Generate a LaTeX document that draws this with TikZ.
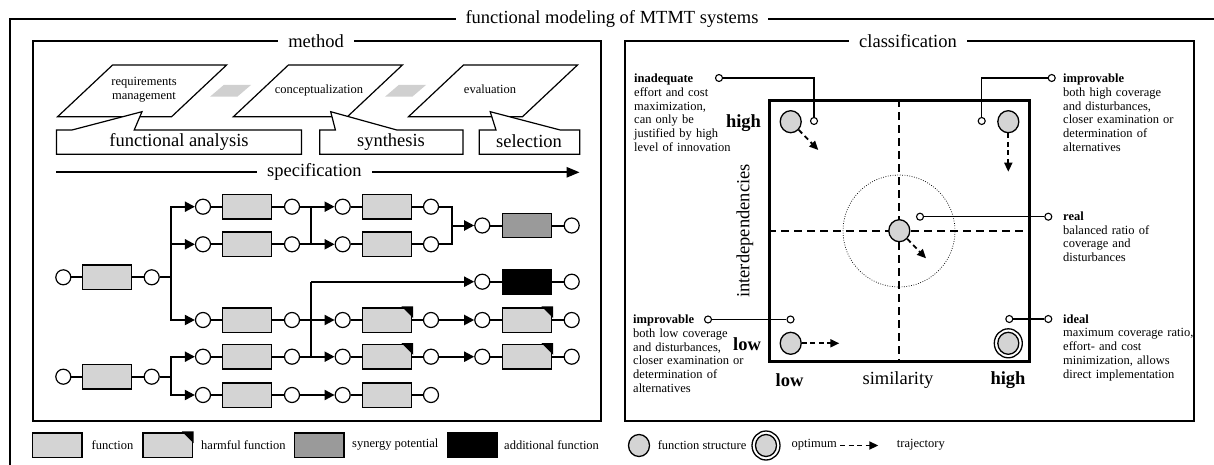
\documentclass[tikz,border=0pt]{standalone}
\usepackage{fontspec}
\setmainfont{Liberation Serif}
\usetikzlibrary{arrows.meta,shapes.geometric}

\definecolor{fnfill}{HTML}{D4D4D4}
\definecolor{synfill}{HTML}{9A9A9A}
\definecolor{linkgrey}{HTML}{D0D0D0}

\tikzset{
  big/.style={font=\fontsize{18.5}{20}\selectfont},
  bigbold/.style={font=\fontsize{18.5}{20}\selectfont\bfseries},
  small/.style={font=\fontsize{12.5}{13.8}\selectfont},
  frametitle/.style={big, fill=white, inner xsep=10pt, inner ysep=2pt},
  port/.style={circle, draw, fill=white, line width=1.2pt, minimum size=15pt, inner sep=0pt},
  fnbox/.style={draw, fill=fnfill, line width=1.4pt, minimum width=49.4pt, minimum height=24.4pt, inner sep=0pt},
  harmbox/.style={fnbox},
  synbox/.style={fnbox, fill=synfill},
  addbox/.style={fnbox, fill=black},
  link/.style={line width=2pt},
  flow/.style={link, -{Triangle[length=10pt,width=10pt]}},
  phase/.style={line width=1.2pt, fill=white},
  fstruct/.style={ellipse, draw, fill=fnfill, line width=1.3pt, minimum width=21pt, minimum height=22pt, inner sep=0pt},
  optring/.style={ellipse, draw, fill=white, line width=1.3pt, minimum width=28pt, minimum height=29pt, inner sep=0pt},
  tap/.style={circle, draw, fill=white, line width=1.1pt, minimum size=7pt, inner sep=0pt},
  lead/.style={line width=1.2pt},
  traj/.style={line width=1.8pt, dash pattern=on 5pt off 3.5pt, -{Triangle[length=9pt,width=8pt]}},
  axisdash/.style={line width=2pt, dash pattern=on 8pt off 5pt},
  note/.style={small, anchor=base west, align=left, text width=140pt, inner sep=0pt},
  legtext/.style={small, anchor=west, inner sep=0pt},
}

\begin{document}
\begin{tikzpicture}[x=1pt, y=-1pt]
\useasboundingbox (0,0) rectangle (1214,465);

% ---------- outer frame ----------
\draw[line width=1.2pt] (1220,19) -| (10,470);
\node[frametitle] (mainttl) at (612,19) {functional modeling of MTMT systems};

% ---------- method panel ----------
\draw[line width=1.5pt] (33,41) rectangle (601,421);
\node[frametitle] (methttl) at (316,41) {method};

% phases (parallelograms)
\foreach \bx in {57.6, 233.4, 408.5}{
  \draw[phase] (\bx,116.7) -- ++(114,0) -- ++(55,-51.7) -- ++(-114,0) -- cycle;
}
\node[small, align=center] (ph1t) at (144,90) {requirements\\management};
\node[small] (ph2t) at (319,90) {conceptualization};
\node[small] (ph3t) at (490,89.5) {evaluation};

% grey links between phases
\foreach \gx in {210, 385}{
  \fill[linkgrey] (\gx,96.7) -- ++(27.3,0) -- ++(13.7,-11.7) -- ++(-27.3,0) -- cycle;
}

% callouts
\draw[phase] (56.4,154.3) -- (56.4,130) -- (72,130) -- (142,111.7) -- (134.2,130) -- (301.5,130) -- (301.5,154.3) -- cycle;
\draw[phase] (319.8,154.3) -- (319.8,130) -- (335.4,130) -- (330.7,111.7) -- (396.8,130) -- (463,130) -- (463,154.3) -- cycle;
\draw[phase] (479.3,154.3) -- (479.3,130) -- (496,130) -- (490.2,111.7) -- (560.2,130) -- (579.7,130) -- (579.7,154.3) -- cycle;
\node[big] (fa) at (179,142) {functional analysis};
\node[big] (sy) at (391,142) {synthesis};
\node[big] (se) at (529,141.5) {selection};

% specification arrow
\coordinate (specL) at (56.4,172.3);
\coordinate (specR) at (579.7,172.3);
\draw[line width=2.4pt, -{Triangle[length=13pt,width=10pt]}] (specL) -- (specR);
\node[big, fill=white, inner xsep=10pt, inner ysep=1pt] (spec) at (314.4,172.3) {specification};

% ---------- function network ----------
% first chain
\node[port] (p11) at (63.3,277.3) {};
\node[fnbox] (f11) at (107,277.3) {};
\node[port] (p12) at (151.7,277.3) {};
\coordinate (br1) at (171,277.3);
% row A
\node[port] (pA1) at (203,206.7) {};
\node[fnbox] (fA1) at (247,206.7) {};
\node[port] (pA2) at (292,206.7) {};
\node[port] (pA3) at (342.7,206.7) {};
\node[fnbox] (fA2) at (387,206.7) {};
\node[port] (pA4) at (431,206.7) {};
% row B
\node[port] (pB1) at (203,244.3) {};
\node[fnbox] (fB1) at (247,244.3) {};
\node[port] (pB2) at (292,244.3) {};
\node[port] (pB3) at (342.7,244.3) {};
\node[fnbox] (fB2) at (387,244.3) {};
\node[port] (pB4) at (431,244.3) {};
% synergy
\node[port] (pS1) at (482.3,225.5) {};
\node[synbox] (fS) at (527,225.5) {};
\node[port] (pS2) at (571.7,225.5) {};
% additional
\node[port] (pK1) at (482.3,281.7) {};
\node[addbox] (fK) at (527,281.7) {};
\node[port] (pK2) at (571.7,281.7) {};
% row D
\node[port] (pD1) at (203,320) {};
\node[fnbox] (fD1) at (247,320) {};
\node[port] (pD2) at (292,320) {};
\node[port] (pD3) at (342.7,320) {};
\node[harmbox] (hD1) at (387,320) {};
\node[port] (pD4) at (431,320) {};
\node[port] (pD5) at (482.3,320) {};
\node[harmbox] (hD2) at (527,320) {};
\node[port] (pD6) at (571.7,320) {};
% second chain
\node[port] (p21) at (63.3,376.7) {};
\node[fnbox] (f21) at (107,376.7) {};
\node[port] (p22) at (151.7,376.7) {};
\coordinate (br2) at (171,376.7);
% row E
\node[port] (pE1) at (203,356.7) {};
\node[fnbox] (fE1) at (247,356.7) {};
\node[port] (pE2) at (292,356.7) {};
\node[port] (pE3) at (342.7,356.7) {};
\node[harmbox] (hE1) at (387,356.7) {};
\node[port] (pE4) at (431,356.7) {};
\node[port] (pE5) at (482.3,356.7) {};
\node[harmbox] (hE2) at (527,356.7) {};
\node[port] (pE6) at (571.7,356.7) {};
% row F
\node[port] (pF1) at (203,395) {};
\node[fnbox] (fF1) at (247,395) {};
\node[port] (pF2) at (292,395) {};
\node[port] (pF3) at (342.7,395) {};
\node[fnbox] (fF2) at (387,395) {};
\node[port] (pF4) at (431,395) {};

% bus points
\coordinate (busA) at (311.3,206.7);
\coordinate (busB) at (311.3,244.3);
\coordinate (mA) at (451.7,206.7);
\coordinate (mB) at (451.7,244.3);
\coordinate (mM) at (451.7,225.5);
\coordinate (busK) at (311.3,281.7);
\coordinate (busE) at (311.3,356.7);

% connectors
\draw[link] (p11) -- (f11) -- (p12) -- (br1);
\draw[flow] (br1) |- (pA1);
\draw[flow] (br1) |- (pB1);
\draw[flow] (br1) |- (pD1);
\draw[link] (pA1) -- (fA1) -- (pA2) -- (busA);
\draw[link] (pB1) -- (fB1) -- (pB2) -- (busB);
\draw[link] (busA) -- (busB);
\draw[flow] (busA) -- (pA3);
\draw[flow] (busB) -- (pB3);
\draw[link] (pA3) -- (fA2) -- (pA4) -- (mA) -- (mB) -- (pB4) -- (fB2) -- (pB3);
\draw[flow] (mM) -- (pS1);
\draw[link] (pS1) -- (fS) -- (pS2);
\draw[link] (busK) -- (busE);
\draw[flow] (busK) -- (pK1);
\draw[link] (pK1) -- (fK) -- (pK2);
\draw[link] (pD1) -- (fD1) -- (pD2);
\draw[flow] (pD2) -- (pD3);
\draw[link] (pD3) -- (hD1) -- (pD4);
\draw[flow] (pD4) -- (pD5);
\draw[link] (pD5) -- (hD2) -- (pD6);
\draw[link] (p21) -- (f21) -- (p22) -- (br2);
\draw[flow] (br2) |- (pE1);
\draw[flow] (br2) |- (pF1);
\draw[link] (pE1) -- (fE1) -- (pE2) -- (busE);
\draw[flow] (busE) -- (pE3);
\draw[link] (pE3) -- (hE1) -- (pE4);
\draw[flow] (pE4) -- (pE5);
\draw[link] (pE5) -- (hE2) -- (pE6);
\draw[link] (pF1) -- (fF1) -- (pF2);
\draw[flow] (pF2) -- (pF3);
\draw[link] (pF3) -- (fF2) -- (pF4);

% legend (left)
\node[fnbox] (lgf) at (57.4,445) {};
\node[legtext] at (91.4,445) {function};
\node[harmbox] (lgh) at (167.5,445) {};
\node[legtext] at (201,445) {harmful function};
\node[synbox] (lgs) at (319.3,445) {};
\node[legtext] at (352,445) {synergy potential};
\node[addbox] (lga) at (472.3,445) {};
\node[legtext] at (504,445) {additional function};

% black corner of each harmful function
\foreach \h in {hD1, hD2, hE1, hE2, lgh}{
  \fill ([xshift=0.7pt, yshift=0.7pt]\h.north east) -- ([xshift=-11pt, yshift=0.7pt]\h.north east)
        -- ([xshift=0.7pt, yshift=-11pt]\h.north east) -- cycle;
}

% ---------- classification panel ----------
\draw[line width=1.5pt] (625,41) rectangle (1194,421);
\node[frametitle] (clsttl) at (908,41) {classification};

\node[draw, line width=2.5pt, minimum width=260pt, minimum height=261pt, inner sep=0pt] (grid) at (899.3,231.2) {};
\draw[axisdash] (grid.north) -- (grid.south);
\draw[axisdash] (grid.west) -- (grid.east);
\draw[line width=0.7pt, dash pattern=on 0.8pt off 1.6pt] (899,231) circle (56pt);

% function structures
\node[fstruct] (sTL) at (790.7,121.7) {};
\node[fstruct] (sTR) at (1008.3,121.7) {};
\node[fstruct] (sC) at (899.3,230.7) {};
\node[fstruct] (sBL) at (790.7,343.3) {};
\node[optring] (oBRr) at (1008.3,343.3) {};
\node[fstruct] (oBR) at (1008.3,343.3) {};

% trajectories
\coordinate (tTL) at (818.3,150);
\coordinate (tTR) at (1008.3,171.7);
\coordinate (tC) at (926,258.3);
\coordinate (tBL) at (839.3,343.3);
\draw[traj] (sTL) -- (tTL);
\draw[traj] (sTR) -- (tTR);
\draw[traj] (sC) -- (tC);
\draw[traj] (sBL) -- (tBL);

% leaders to the descriptions
\node[tap] (inA) at (814,121) {};
\node[tap] (inB) at (719,78) {};
\node[tap] (imA) at (981.7,121) {};
\node[tap] (imB) at (1051.7,78) {};
\node[tap] (reA) at (920,216.7) {};
\node[tap] (reB) at (1048.3,216.7) {};
\node[tap] (lwA) at (790.5,319.5) {};
\node[tap] (lwB) at (708,319.5) {};
\node[tap] (idA) at (1009.3,319) {};
\node[tap] (idB) at (1048.3,319) {};
\draw[lead] (inB) -| (inA);
\draw[lead] (imB) -| (imA);
\draw[lead] (reA) -- (reB);
\draw[lead] (lwB) -- (lwA);
\draw[lead] (idA) -- (idB);

% descriptions
\node[note] (dIn) at (634,82.5) {\textbf{inadequate}\\effort and cost\\maximization,\\can only be\\justified by high\\level of innovation};
\node[note] (dIm) at (1063,82.5) {\textbf{improvable}\\both high coverage\\and disturbances,\\closer examination or\\determination of\\alternatives};
\node[note] (dRe) at (1063,220.2) {\textbf{real}\\balanced ratio of\\coverage and\\disturbances};
\node[note] (dLw) at (633,323.5) {\textbf{improvable}\\both low coverage\\and disturbances,\\closer examination or\\determination of\\alternatives};
\node[note] (dId) at (1063,323) {\textbf{ideal}\\maximum coverage ratio,\\effort- and cost\\minimization, allows\\direct implementation};

% axis labels
\node[bigbold] (yhi) at (743.5,123.3) {high};
\node[bigbold] (ylo) at (747,344) {low};
\node[bigbold] (xlo) at (789.5,380.5) {low};
\node[big] (xlab) at (898,380.5) {similarity};
\node[bigbold] (xhi) at (1008,380.5) {high};
\node[big, rotate=90] (ylab) at (745,231) {interdependencies};

% legend (right)
\node[fstruct] (lgfs) at (639,445.5) {};
\node[legtext] at (657.6,445) {function structure};
\node[optring] (lgor) at (766,445.5) {};
\node[fstruct] (lgo) at (766,445.5) {};
\node[legtext] at (791.5,445) {optimum};
\coordinate (lgtA) at (840,445.5);
\coordinate (lgtB) at (878.3,445.5);
\draw[traj] (lgtA) -- (lgtB);
\node[legtext] at (896.7,445) {trajectory};
\end{tikzpicture}
\end{document}
